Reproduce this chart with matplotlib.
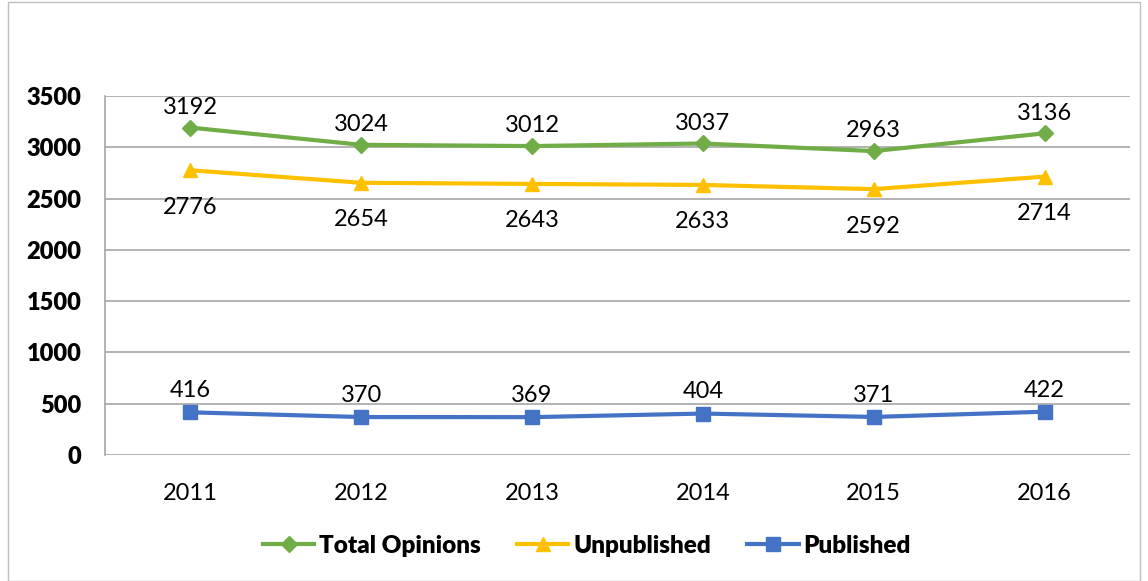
import matplotlib
matplotlib.use("Agg")
import matplotlib.pyplot as plt
from matplotlib.patches import Rectangle

years = ["2011", "2012", "2013", "2014", "2015", "2016"]
total = [3192, 3024, 3012, 3037, 2963, 3136]
unpublished = [2776, 2654, 2643, 2633, 2592, 2714]
published = [416, 370, 369, 404, 371, 422]
yticks = [0, 500, 1000, 1500, 2000, 2500, 3000, 3500]

plt.rcParams['font.family'] = ['Lato', 'DejaVu Sans']

fig = plt.figure(figsize=(11.48, 5.81), dpi=100)
ax = fig.add_axes([105/1148, 1-455/581, (1130-105)/1148, (455-96)/581])
x = list(range(len(years)))

green = "#70AD47"
yellow = "#FFC000"
blue = "#4472C4"

ax.plot(x, total, color=green, lw=3, marker="D", ms=8, label="Total Opinions")
ax.plot(x, unpublished, color=yellow, lw=3, marker="^", ms=10, label="Unpublished")
ax.plot(x, published, color=blue, lw=3, marker="s", ms=10, label="Published")

fs = 17
for xi, v in zip(x, total):
    ax.annotate(str(v), (xi, v), xytext=(0, 7), textcoords="offset points",
                ha="center", va="bottom", fontsize=fs)
for xi, v in zip(x, unpublished):
    ax.annotate(str(v), (xi, v), xytext=(0, -19), textcoords="offset points",
                ha="center", va="top", fontsize=fs)
for xi, v in zip(x, published):
    ax.annotate(str(v), (xi, v), xytext=(0, 8), textcoords="offset points",
                ha="center", va="bottom", fontsize=fs)

ax.set_xlim(-0.5, 5.5)
ax.set_ylim(0, 3500)
ax.set_yticks(yticks)
ax.set_yticklabels([str(t) for t in yticks], fontsize=fs, fontweight="heavy")
ax.set_xticks(x)
ax.set_xticklabels(years, fontsize=fs)
ax.tick_params(axis="both", length=0)
ax.tick_params(axis="y", pad=17)
ax.tick_params(axis="x", pad=20)
ax.grid(axis="y", color="#A6A6A6", lw=1.2)
ax.set_axisbelow(True)
for s in ["top", "right", "bottom"]:
    ax.spines[s].set_visible(False)
ax.spines["left"].set_color("#A6A6A6")
ax.spines["left"].set_linewidth(1.2)

leg = fig.legend(loc="center", bbox_to_anchor=(587/1148, 1-546/581), ncol=3,
                 frameon=False, prop={"size": 17.5, "weight": "heavy"},
                 handlelength=2.1, columnspacing=1.5, handletextpad=0.2)

fig.patches.append(Rectangle((8/1148, 0), 1-16/1148, 1-2/581, transform=fig.transFigure,
                             fill=False, edgecolor="#BFBFBF", lw=1))

fig.savefig("out.png", dpi=100)
